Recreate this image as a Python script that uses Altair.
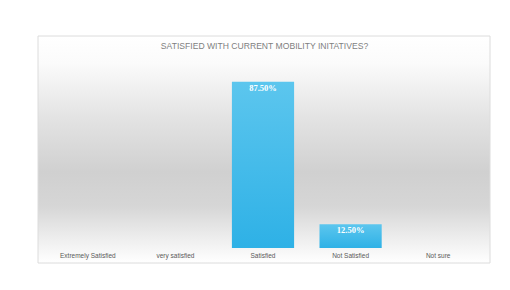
import altair as alt
import pandas as pd

categories = ["Extremely Satisfied", "very satisfied", "Satisfied", "Not Satisfied", "Not sure"]
values = [0, 0, 87.5, 12.5, 0]
value_labels = ["", "", "87.50%", "12.50%", ""]
title_text = "SATISFIED WITH CURRENT MOBILITY INITATIVES?"

df = pd.DataFrame({"category": categories, "value": values, "label": value_labels})

W, H = 452, 227

panel_fill = alt.Gradient(
    gradient="linear", x1=0, x2=0, y1=0, y2=1,
    stops=[
        alt.GradientStop(offset=0.0, color="#ffffff"),
        alt.GradientStop(offset=0.12, color="#fbfbfb"),
        alt.GradientStop(offset=0.35, color="#e4e4e4"),
        alt.GradientStop(offset=0.6, color="#d0d0d0"),
        alt.GradientStop(offset=0.75, color="#d6d6d6"),
        alt.GradientStop(offset=0.9, color="#efefef"),
        alt.GradientStop(offset=1.0, color="#ffffff"),
    ],
)

bar_fill = alt.Gradient(
    gradient="linear", x1=0, x2=0, y1=0, y2=1,
    stops=[
        alt.GradientStop(offset=0.0, color="#5cc6ee"),
        alt.GradientStop(offset=1.0, color="#2eb1e6"),
    ],
)

panel = alt.Chart(pd.DataFrame({"p": [0]})).mark_rect(
    fill=panel_fill, stroke="#dcdcdc", strokeWidth=1
).encode(
    x=alt.value(0), x2=alt.value(W), y=alt.value(0), y2=alt.value(H)
)

title = alt.Chart(pd.DataFrame({"t": [title_text]})).mark_text(
    font="Liberation Sans", fontSize=8.6, color="#7f7f7f", align="center", baseline="middle"
).encode(text="t:N", x=alt.value(W / 2 + 0.5), y=alt.value(10))

x_enc = alt.X(
    "category:N", sort=categories,
    scale=alt.Scale(range=[6, 444], paddingInner=0.29, paddingOuter=0.145),
    axis=alt.Axis(
        title=None, orient="bottom", offset=-13, domain=False, ticks=False,
        labelAngle=0, labelFontSize=6.5, labelColor="#595959", labelPadding=2,
        labelFont="Liberation Sans", grid=False, zindex=2,
    ),
)
y_enc = alt.Y("value:Q", scale=alt.Scale(domain=[0, 100], range=[212, 22]), axis=None)

bars = alt.Chart(df).mark_bar(fill=bar_fill).encode(x=x_enc, y=y_enc)

bar_text = alt.Chart(df).mark_text(
    font="Liberation Serif", fontWeight="bold", fontSize=8.5, color="#ffffff",
    baseline="top", dy=2
).encode(x=alt.X("category:N", sort=categories), y=alt.Y("value:Q"), text="label:N")

chart = alt.layer(panel, title, bars, bar_text).properties(
    width=W, height=H,
    padding={"left": 30, "top": 28, "right": 12, "bottom": 19},
    autosize=alt.AutoSizeParams(type="none"),
    background="#ffffff",
).configure_view(stroke=None)

chart.save("out.html", embed_options={"renderer": "svg", "actions": False})
